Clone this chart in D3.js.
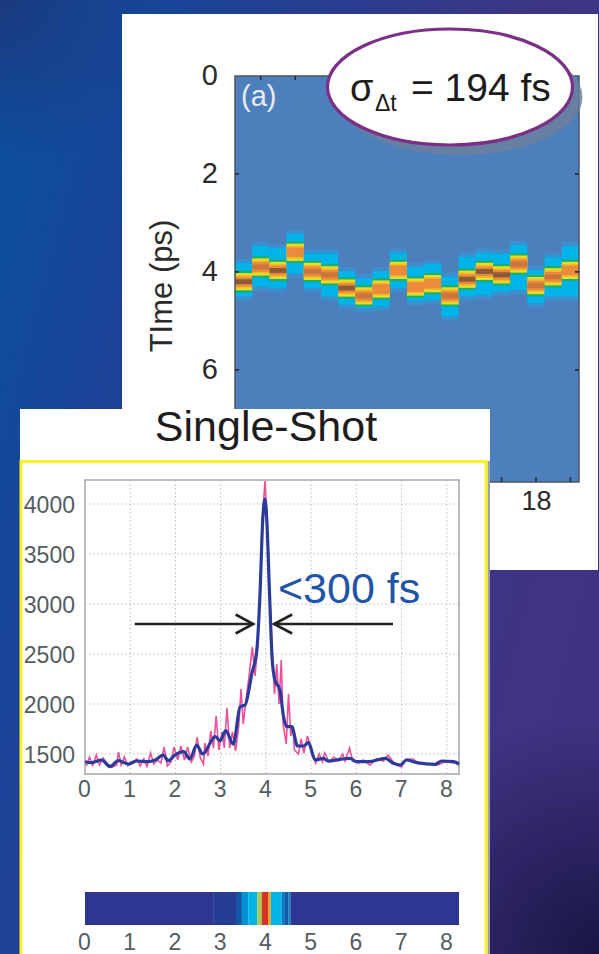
<!DOCTYPE html>
<html>
<head>
<meta charset="utf-8">
<script src="https://cdn.jsdelivr.net/npm/d3@7.9.0/dist/d3.min.js"></script>
<style>
  html, body { margin: 0; padding: 0; background: #1f3f94; overflow: hidden; }
  svg { display: block; }
  text { font-family: "Liberation Sans", Arial, sans-serif; }
</style>
</head>
<body>
<svg id="chart"></svg>
<script>
// top panel: one column per shot, times in ps
const shots = d3.range(1, 21);
const peakTime = [4.20, 3.90, 3.97, 3.60, 3.99, 4.06, 4.33, 4.49, 4.35, 3.97, 4.31, 4.24, 4.49, 4.15, 3.99, 4.06, 3.84, 4.28, 4.10, 3.97];
const cyanTop = [3.82, 3.47, 3.52, 3.22, 3.62, 3.62, 3.99, 4.13, 3.99, 3.61, 3.90, 3.84, 4.10, 3.69, 3.61, 3.63, 3.45, 3.96, 3.70, 3.48];
const cyanBottom = [4.50, 4.30, 4.33, 4.03, 4.33, 4.50, 4.67, 4.74, 4.71, 4.33, 4.59, 4.57, 4.91, 4.50, 4.47, 4.40, 4.37, 4.64, 4.50, 4.50];
const coreLevel = [2, 1, 2, 0, 1, 1, 2, 1, 0, 0, 0, 0, 1, 2, 2, 2, 1, 1, 1, 0];
const bandHalf = [0.22, 0.175, 0.135, 0.10];
const bandColors = ['#1fae6e', '#e6e024', '#f3bd2c', '#ea8a3c'];
const coreColors = ['#ec8a3c', '#c8763a', '#8c5a34'];
const timeTicks = [0, 2, 4, 6, 8];
const shotTicks = [2, 4, 6, 8, 10, 12, 14, 16, 18, 20];
const shotLabels = [2, 6, 10, 14, 18];

// bottom panel: single shot trace
const traceX = [0, 0.147, 0.369, 0.553, 0.737, 0.959, 1.143, 1.40, 1.55, 1.73, 1.84, 1.99, 2.18, 2.32, 2.47, 2.60, 2.88, 2.99, 3.11, 3.28, 3.43, 3.54, 3.69, 3.80, 3.87, 3.93, 3.98, 4.02, 4.08, 4.14, 4.20, 4.31, 4.39, 4.46, 4.57, 4.70, 4.83, 4.94, 5.09, 5.27, 5.38, 5.64, 5.86, 6.0, 6.27, 6.64, 6.82, 6.97, 7.11, 7.34, 7.74, 7.89, 8.15, 8.27];
const traceY = [1423, 1413, 1440, 1373, 1433, 1400, 1430, 1423, 1440, 1490, 1433, 1490, 1523, 1450, 1590, 1500, 1673, 1633, 1733, 1600, 1973, 1990, 2307, 2540, 3107, 3840, 4050, 3840, 3107, 2440, 2240, 2140, 1873, 1773, 1773, 1580, 1580, 1613, 1440, 1457, 1430, 1447, 1457, 1423, 1423, 1457, 1407, 1390, 1440, 1413, 1397, 1430, 1423, 1400];
const rawX = [0.03, 0.1, 0.17, 0.25, 0.32, 0.4, 0.5, 0.6, 0.7, 0.74, 0.8, 0.87, 0.95, 1.05, 1.15, 1.22, 1.3, 1.37, 1.45, 1.52, 1.6, 1.68, 1.75, 1.82, 1.9, 1.97, 2.05, 2.12, 2.2, 2.27, 2.35, 2.42, 2.48, 2.55, 2.62, 2.65, 2.72, 2.78, 2.84, 2.9, 2.96, 3.03, 3.08, 3.14, 3.2, 3.26, 3.33, 3.4, 3.45, 3.5, 3.56, 3.62, 3.7, 3.76, 3.82, 3.88, 3.93, 3.98, 4.03, 4.08, 4.14, 4.19, 4.24, 4.29, 4.34, 4.38, 4.45, 4.5, 4.55, 4.6, 4.63, 4.72, 4.78, 4.84, 4.92, 5.0, 5.1, 5.18, 5.25, 5.3, 5.4, 5.5, 5.6, 5.7, 5.75, 5.85, 5.92, 6.05, 6.15, 6.3, 6.45, 6.6, 6.7, 6.85, 7.0, 7.1, 7.25, 7.4, 7.6, 7.8, 7.95, 8.2, 8.27];
const rawY = [1380, 1470, 1385, 1490, 1390, 1460, 1400, 1370, 1390, 1520, 1390, 1470, 1380, 1420, 1450, 1380, 1450, 1375, 1510, 1400, 1440, 1410, 1570, 1380, 1420, 1570, 1440, 1580, 1440, 1570, 1420, 1480, 1670, 1460, 1400, 1610, 1480, 1730, 1560, 1880, 1540, 1720, 1560, 1960, 1560, 1720, 1530, 1780, 2150, 1800, 2040, 2250, 2570, 2280, 2590, 3200, 3900, 4230, 3800, 3150, 2500, 2100, 2400, 2000, 2440, 1800, 1600, 2100, 1680, 1780, 1540, 1500, 1650, 1510, 1680, 1560, 1410, 1500, 1420, 1510, 1420, 1470, 1430, 1500, 1430, 1560, 1430, 1410, 1440, 1390, 1450, 1430, 1490, 1400, 1370, 1450, 1450, 1400, 1400, 1390, 1420, 1410, 1390];
const traceTicksX = [0, 1, 2, 3, 4, 5, 6, 7, 8];
const traceTicksY = [1500, 2000, 2500, 3000, 3500, 4000];

// colour strip under the trace
const stripStart = [0, 2.85, 3.36, 3.47, 3.61, 3.81, 3.91, 4.05, 4.11, 4.35, 4.42, 4.50, 4.55];
const stripEnd = [2.85, 3.36, 3.47, 3.61, 3.81, 3.91, 4.05, 4.11, 4.35, 4.42, 4.50, 4.55, 8.27];
const stripColors = ['#2e3692', '#263d96', '#0a5aa8', '#0090d4', '#00b4e8', '#a8c850', '#d8302a', '#f0a020', '#00b4e8', '#0a78c0', '#1858a8', '#0a78bc', '#2e3692'];

const width = 599;
const height = 954;

const svg = d3.select('#chart').attr('width', width).attr('height', height);
const defs = svg.append('defs');

const bgGrad = defs.append('linearGradient').attr('id', 'bg')
  .attr('x1', 0).attr('y1', 0.15).attr('x2', 1).attr('y2', 0.55);
bgGrad.selectAll('stop')
  .data([[0, '#0c4f9e'], [0.25, '#1c4296'], [0.7, '#3c3686'], [1, '#403383']])
  .join('stop')
  .attr('offset', d => d[0])
  .attr('stop-color', d => d[1]);

const cornerGrad = defs.append('radialGradient').attr('id', 'corner')
  .attr('gradientUnits', 'userSpaceOnUse')
  .attr('cx', 599).attr('cy', 954).attr('r', 240);
cornerGrad.append('stop').attr('offset', 0).attr('stop-color', '#14123c').attr('stop-opacity', 0.9);
cornerGrad.append('stop').attr('offset', 1).attr('stop-color', '#14123c').attr('stop-opacity', 0);

const topGrad = defs.append('radialGradient').attr('id', 'topleft')
  .attr('gradientUnits', 'userSpaceOnUse')
  .attr('cx', 0).attr('cy', 0).attr('r', 170);
topGrad.append('stop').attr('offset', 0).attr('stop-color', '#1f3478').attr('stop-opacity', 0.8);
topGrad.append('stop').attr('offset', 1).attr('stop-color', '#1f3478').attr('stop-opacity', 0);

defs.append('filter').attr('id', 'soft')
  .append('feGaussianBlur').attr('stdDeviation', 0.6);
defs.append('filter').attr('id', 'text-soft')
  .append('feGaussianBlur').attr('stdDeviation', 0.35);

svg.append('rect').attr('width', width).attr('height', height).attr('fill', 'url(#bg)');
svg.append('rect').attr('width', width).attr('height', height).attr('fill', 'url(#corner)');
svg.append('rect').attr('width', width).attr('height', height).attr('fill', 'url(#topleft)');

// --- top panel ---
svg.append('rect').attr('x', 122).attr('y', 14).attr('width', 476).attr('height', 556).attr('fill', '#ffffff');

const xShot = d3.scaleLinear().domain([0.5, 20.5]).range([235, 579]);
const yTime = d3.scaleLinear().domain([0, 8.29]).range([76, 482]);

svg.append('rect')
  .attr('x', xShot(0.5)).attr('y', yTime(0))
  .attr('width', xShot(20.5) - xShot(0.5))
  .attr('height', yTime(8.29) - yTime(0))
  .attr('fill', '#4e7fbd');

const heat = svg.append('g').attr('filter', 'url(#soft)');
const colW = xShot(1.5) - xShot(0.5);

shots.forEach((shot, i) => {
  const x0 = xShot(shot - 0.5);
  const block = (t0, t1, color, opacity = 1) => heat.append('rect')
    .attr('x', x0).attr('width', colW)
    .attr('y', yTime(t0)).attr('height', yTime(t1) - yTime(t0))
    .attr('fill', color).attr('opacity', opacity);

  block(cyanTop[i] - 0.09, cyanBottom[i] + 0.09, '#2a9ddc', 0.5);
  block(cyanTop[i], cyanBottom[i], '#00b4ea');
  bandHalf.forEach((h, b) => block(peakTime[i] - h, peakTime[i] + h, bandColors[b]));
  block(peakTime[i] - 0.05, peakTime[i] + 0.05, coreColors[coreLevel[i]]);
});

// frame and ticks, axis labels through d3 axes
svg.append('rect')
  .attr('x', xShot(0.5)).attr('y', yTime(0))
  .attr('width', xShot(20.5) - xShot(0.5))
  .attr('height', yTime(8.29) - yTime(0))
  .attr('fill', 'none').attr('stroke', '#4a5663').attr('stroke-width', 1.5);

const leftAxis = svg.append('g')
  .attr('transform', `translate(${xShot(0.5)},0)`)
  .call(d3.axisLeft(yTime).tickValues(timeTicks).tickSize(0).tickPadding(17));
leftAxis.select('.domain').remove();
leftAxis.selectAll('text').attr('font-size', 29).attr('fill', '#2b2b2b').attr('dy', '0.3em');

const bottomAxis = svg.append('g')
  .attr('transform', `translate(0,${yTime(8.29)})`)
  .call(d3.axisBottom(xShot).tickValues(shotLabels).tickSize(0).tickPadding(9));
bottomAxis.select('.domain').remove();
bottomAxis.selectAll('text').attr('font-size', 27).attr('fill', '#2b2b2b');

const tickColor = '#1f2a33';
svg.append('g').selectAll('line').data(timeTicks.slice(1, 4)).join('line')
  .attr('x1', xShot(0.5)).attr('x2', xShot(0.5) + 4)
  .attr('y1', d => yTime(d)).attr('y2', d => yTime(d))
  .attr('stroke', tickColor).attr('stroke-width', 1.6);
svg.append('g').selectAll('line').data(timeTicks.slice(1, 4)).join('line')
  .attr('x1', xShot(20.5) - 4).attr('x2', xShot(20.5))
  .attr('y1', d => yTime(d)).attr('y2', d => yTime(d))
  .attr('stroke', tickColor).attr('stroke-width', 1.6);
svg.append('g').selectAll('line').data(shotTicks).join('line')
  .attr('x1', d => xShot(d)).attr('x2', d => xShot(d))
  .attr('y1', yTime(0)).attr('y2', yTime(0) + 4)
  .attr('stroke', tickColor).attr('stroke-width', 1.4);
svg.append('g').selectAll('line').data(shotTicks).join('line')
  .attr('x1', d => xShot(d)).attr('x2', d => xShot(d))
  .attr('y1', yTime(8.29) - 5).attr('y2', yTime(8.29))
  .attr('stroke', tickColor).attr('stroke-width', 1.4);

svg.append('text')
  .attr('transform', 'translate(172,286) rotate(-90)')
  .attr('text-anchor', 'middle')
  .attr('font-size', 31).attr('fill', '#2b2b2b')
  .text('TIme (ps)');

svg.append('text')
  .attr('x', 241).attr('y', 106)
  .attr('font-size', 29).attr('fill', '#e6ecf4')
  .text('(a)');

// callout
svg.append('ellipse')
  .attr('cx', 460).attr('cy', 97).attr('rx', 122.5).attr('ry', 58)
  .attr('fill', '#6d7f9c').attr('opacity', 0.8).attr('filter', 'url(#soft)');
svg.append('ellipse')
  .attr('cx', 450).attr('cy', 87).attr('rx', 122.5).attr('ry', 58)
  .attr('fill', '#ffffff').attr('stroke', '#7c2f86').attr('stroke-width', 3.2);
svg.append('text').attr('x', 350).attr('y', 100.5)
  .attr('font-size', 38).attr('fill', '#1c1c1c').text('σ');
svg.append('text').attr('x', 375).attr('y', 110.5)
  .attr('font-size', 23).attr('fill', '#1c1c1c').text('Δt');
svg.append('text').attr('x', 411).attr('y', 100.5)
  .attr('font-size', 39).attr('fill', '#1c1c1c').text('= 194 fs');

// --- bottom panel ---
svg.append('rect').attr('x', 20).attr('y', 409).attr('width', 470).attr('height', 545).attr('fill', '#ffffff');
svg.append('rect').attr('x', 487.5).attr('y', 461).attr('width', 2.5).attr('height', 493).attr('fill', '#9aa1a8');
svg.append('rect').attr('x', 21).attr('y', 461.5).attr('width', 465).attr('height', 520)
  .attr('fill', 'none').attr('stroke', '#fff01e').attr('stroke-width', 3);

svg.append('text')
  .attr('x', 266).attr('y', 441)
  .attr('text-anchor', 'middle')
  .attr('font-size', 43).attr('fill', '#1d1d1d')
  .text('Single-Shot');

const xTrace = d3.scaleLinear().domain([0, 8.27]).range([85, 459]);
const yTrace = d3.scaleLinear().domain([1300, 4240]).range([774, 480]);

const labelColor = '#555c60';
const traceFrame = svg.append('g');

traceFrame.append('g').selectAll('line').data(traceTicksX.slice(1)).join('line')
  .attr('x1', d => xTrace(d)).attr('x2', d => xTrace(d))
  .attr('y1', yTrace(4240)).attr('y2', yTrace(1300))
  .attr('stroke', '#b9bec4').attr('stroke-width', 1).attr('stroke-dasharray', '1.5 2.5');
traceFrame.append('g').selectAll('line').data(traceTicksY).join('line')
  .attr('x1', xTrace(0)).attr('x2', xTrace(8.27))
  .attr('y1', d => yTrace(d)).attr('y2', d => yTrace(d))
  .attr('stroke', '#b9bec4').attr('stroke-width', 1).attr('stroke-dasharray', '1.5 2.5');
traceFrame.append('rect')
  .attr('x', xTrace(0)).attr('y', yTrace(4240))
  .attr('width', xTrace(8.27) - xTrace(0))
  .attr('height', yTrace(1300) - yTrace(4240))
  .attr('fill', 'none').attr('stroke', '#a6acb4').attr('stroke-width', 1.6);

const yTraceAxis = svg.append('g')
  .attr('transform', `translate(${xTrace(0)},0)`)
  .call(d3.axisLeft(yTrace).tickValues(traceTicksY).tickFormat(d3.format('d')).tickSize(0).tickPadding(10));
yTraceAxis.select('.domain').remove();
yTraceAxis.selectAll('text').attr('font-size', 23).attr('fill', labelColor).attr('dy', '0.36em');

const xTraceAxis = svg.append('g')
  .attr('transform', `translate(-1,${yTrace(1300)})`)
  .call(d3.axisBottom(xTrace).tickValues(traceTicksX).tickSize(0).tickPadding(7));
xTraceAxis.select('.domain').remove();
xTraceAxis.selectAll('text').attr('font-size', 23).attr('fill', labelColor);

const rawLine = d3.line().x(i => xTrace(rawX[i])).y(i => yTrace(rawY[i]));
svg.append('path')
  .attr('d', rawLine(d3.range(rawX.length)))
  .attr('fill', 'none').attr('stroke', '#ee4f98').attr('stroke-width', 1.6)
  .attr('filter', 'url(#soft)');

const smoothLine = d3.line().x(i => xTrace(traceX[i])).y(i => yTrace(traceY[i])).curve(d3.curveMonotoneX);
svg.append('path')
  .attr('d', smoothLine(d3.range(traceX.length)))
  .attr('fill', 'none').attr('stroke', '#2b3a9c').attr('stroke-width', 3.2)
  .attr('stroke-linejoin', 'round')
  .attr('filter', 'url(#soft)');

// width arrows, given in the trace's own units
const arrowY = 2800;
const drawArrow = (from, to, head) => {
  const pts = [[from, arrowY], [to, arrowY]];
  const barbs = [[head, arrowY + 95], [to, arrowY], [head, arrowY - 95]];
  const l = d3.line().x(d => xTrace(d[0])).y(d => yTrace(d[1]));
  svg.append('path').attr('d', l(pts)).attr('fill', 'none').attr('stroke', '#222').attr('stroke-width', 2.6);
  svg.append('path').attr('d', l(barbs)).attr('fill', 'none').attr('stroke', '#222').attr('stroke-width', 2.6);
};
drawArrow(1.1, 3.72, 3.33);
drawArrow(6.81, 4.18, 4.58);

svg.append('text')
  .attr('x', 278).attr('y', 603)
  .attr('font-size', 43).attr('fill', '#1f55a8')
  .text('<300 fs');

// colour strip
const strip = svg.append('g').attr('filter', 'url(#soft)');
strip.selectAll('rect').data(stripColors).join('rect')
  .attr('x', (d, i) => xTrace(stripStart[i]))
  .attr('width', (d, i) => xTrace(stripEnd[i]) - xTrace(stripStart[i]))
  .attr('y', 892).attr('height', 33)
  .attr('fill', d => d);

const stripAxis = svg.append('g')
  .attr('transform', 'translate(-1,925)')
  .call(d3.axisBottom(xTrace).tickValues(traceTicksX).tickSize(0).tickPadding(9));
stripAxis.select('.domain').remove();
stripAxis.selectAll('text').attr('font-size', 23).attr('fill', labelColor);
</script>
</body>
</html>
